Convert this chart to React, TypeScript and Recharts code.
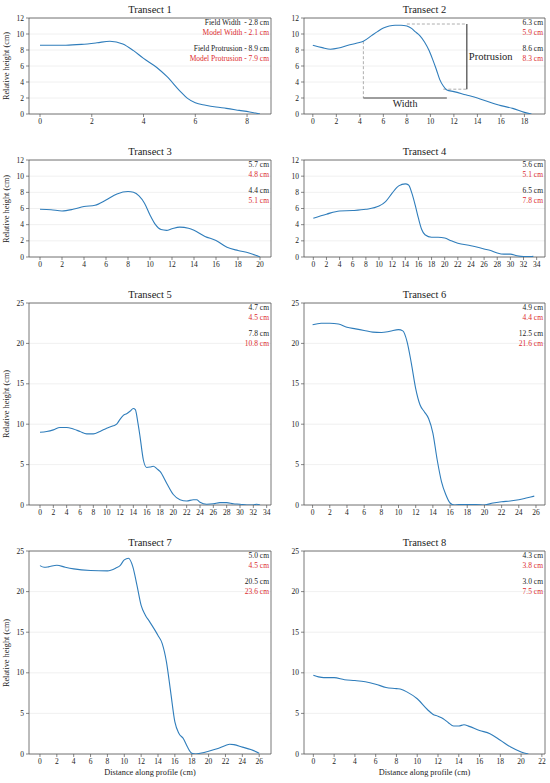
import React from 'react';
import { LineChart, Line, XAxis, YAxis, CartesianGrid, ReferenceArea, ReferenceLine } from 'recharts';

const FONT = '"Liberation Serif", "DejaVu Serif", serif';
const LINE_COLOR = '#2f7dbb';
const RED = '#dc2a2d';
const DARK = '#222';

// ---- data ----
const t1X = [0, 0.5, 1, 1.6, 2.2, 2.7, 3.2, 3.6, 4.0, 4.5, 4.9, 5.4, 5.7, 6.0, 6.4, 6.8, 7.2, 7.7, 8.1, 8.5];
const t1Y = [8.6, 8.6, 8.6, 8.7, 8.9, 9.1, 8.75, 7.95, 6.95, 5.85, 4.7, 2.9, 1.95, 1.4, 1.1, 0.87, 0.7, 0.45, 0.25, 0.0];

const t2X = [0, 0.8, 1.5, 2.2, 3, 3.7, 4.3, 5, 5.5, 6, 6.5, 7, 7.5, 8, 8.4, 8.7, 9.1, 9.5, 9.9, 10.2, 10.5, 10.8, 11.1, 11.4, 12, 13, 14, 15, 16, 17, 18, 18.6];
const t2Y = [8.6, 8.3, 8.1, 8.25, 8.6, 8.85, 9.1, 9.8, 10.3, 10.75, 11.0, 11.1, 11.1, 11.0, 10.7, 10.3, 9.8, 9.0, 7.9, 6.8, 5.6, 4.3, 3.5, 3.0, 2.8, 2.4, 2.0, 1.5, 1.05, 0.7, 0.2, 0.0];

const t3X = [0, 1, 2, 3, 4, 5, 6, 7, 8, 8.5, 9, 9.5, 10, 10.5, 11, 11.5, 12, 12.7, 13.5, 14, 15, 16, 17, 18, 19, 20];
const t3Y = [5.9, 5.85, 5.7, 5.9, 6.25, 6.4, 7.05, 7.8, 8.1, 8.0, 7.55, 6.65, 5.2, 4.0, 3.4, 3.3, 3.5, 3.7, 3.55, 3.3, 2.55, 2.05, 1.2, 0.8, 0.5, 0.0];

const t4X = [0, 2, 4, 6, 8, 10, 11, 12, 13, 14, 14.5, 15, 15.5, 16, 16.5, 17, 18, 19, 20, 21, 22, 24, 26, 27, 28, 29, 30, 31, 32, 33, 33.5];
const t4Y = [4.8, 5.3, 5.7, 5.75, 5.9, 6.3, 6.85, 7.9, 8.8, 9.05, 8.9, 7.9, 6.45, 4.8, 3.4, 2.75, 2.45, 2.45, 2.35, 2.0, 1.7, 1.4, 1.0, 0.8, 0.5, 0.35, 0.35, 0.15, 0.05, 0.05, 0.1];

const t5X = [0, 1, 2, 3, 4, 5, 6, 7, 8, 9, 10, 11, 11.5, 12, 12.5, 13, 13.5, 14, 14.3, 14.7, 15, 15.5, 16, 16.5, 17, 17.5, 18, 19, 20, 21, 22, 23, 23.5, 24, 25, 26, 27, 28, 29, 30, 31, 32, 32.5, 33];
const t5Y = [9.0, 9.1, 9.3, 9.6, 9.6, 9.4, 9.1, 8.8, 8.8, 9.1, 9.5, 9.8, 10.0, 10.6, 11.1, 11.3, 11.6, 11.95, 11.8, 10.1, 8.5, 5.6, 4.65, 4.7, 4.8, 4.5, 4.15, 2.7, 1.3, 0.65, 0.5, 0.65, 0.65, 0.35, 0.1, 0.15, 0.3, 0.3, 0.15, 0.1, 0.0, 0.0, 0.1, 0.0];

const t6X = [0, 1, 2, 3, 4, 5, 6, 7, 8, 9, 10, 10.5, 11, 11.5, 12, 12.5, 13, 13.5, 14, 14.5, 15, 15.5, 16, 16.5, 17, 18, 19, 20, 21, 22, 23, 24, 25, 25.8];
const t6Y = [22.3, 22.5, 22.5, 22.4, 22.0, 21.8, 21.6, 21.4, 21.35, 21.5, 21.7, 21.55, 20.2, 17.5, 14.4, 12.4, 11.55, 10.7, 8.9, 5.6, 2.9, 1.3, 0.25, 0.0, 0.05, 0.05, 0.05, 0.0, 0.25, 0.4, 0.5, 0.65, 0.9, 1.1];

const t7X = [0, 0.5, 1, 2, 3, 4, 6, 8, 9, 9.5, 10, 10.5, 11, 11.5, 12, 12.5, 13, 14, 14.5, 15, 15.5, 16, 16.5, 17, 17.5, 18, 18.5, 19, 20, 21, 22, 22.5, 23, 24, 25, 26];
const t7Y = [23.2, 23.0, 23.05, 23.25, 23.0, 22.8, 22.6, 22.55, 22.9, 23.2, 23.9, 24.1, 23.1, 20.8, 18.3, 17.1, 16.3, 14.6, 13.6, 11.35, 7.65, 3.95, 2.5, 1.9, 0.85, 0.1, 0.0, 0.1, 0.35, 0.65, 1.05, 1.2, 1.15, 0.85, 0.55, 0.1];

const t8X = [0, 0.5, 1, 2, 3, 4, 5, 6, 7, 8, 8.5, 9, 10, 11, 11.5, 12, 12.5, 13, 13.5, 14, 14.5, 15, 16, 17, 18, 19, 20, 20.7];
const t8Y = [9.7, 9.5, 9.4, 9.4, 9.15, 9.05, 8.9, 8.6, 8.2, 8.05, 7.95, 7.65, 6.8, 5.45, 4.9, 4.65, 4.35, 3.85, 3.45, 3.45, 3.6, 3.4, 2.9, 2.5, 1.7, 0.85, 0.25, 0.0];

// tick labels
const ticksT1 = [0, 2, 4, 6, 8];
const ticksT2 = [0, 2, 4, 6, 8, 10, 12, 14, 16, 18];
const ticksT3 = [0, 2, 4, 6, 8, 10, 12, 14, 16, 18, 20];
const ticksT4 = [0, 2, 4, 6, 8, 10, 12, 14, 16, 18, 20, 22, 24, 26, 28, 30, 32, 34];
const ticksT5 = [0, 2, 4, 6, 8, 10, 12, 14, 16, 18, 20, 22, 24, 26, 28, 30, 32, 34];
const ticksT6 = [0, 2, 4, 6, 8, 10, 12, 14, 16, 18, 20, 22, 24, 26];
const ticksT7 = [0, 2, 4, 6, 8, 10, 12, 14, 16, 18, 20, 22, 24, 26];
const ticksT8 = [0, 2, 4, 6, 8, 10, 12, 14, 16, 18, 20, 22];
const yTicksSmall = [0, 2, 4, 6, 8, 10, 12];
const yTicksLarge = [0, 5, 10, 15, 20, 25];

// annotations (field / model width, field / model protrusion)
const notesT1 = ['Field Width  - 2.8 cm', 'Model Width - 2.1 cm', 'Field Protrusion - 8.9 cm', 'Model Protrusion - 7.9 cm'];
const notesT2 = ['6.3 cm', '5.9 cm', '8.6 cm', '8.3 cm'];
const notesT3 = ['5.7 cm', '4.8 cm', '4.4 cm', '5.1 cm'];
const notesT4 = ['5.6 cm', '5.1 cm', '6.5 cm', '7.8 cm'];
const notesT5 = ['4.7 cm', '4.5 cm', '7.8 cm', '10.8 cm'];
const notesT6 = ['4.9 cm', '4.4 cm', '12.5 cm', '21.6 cm'];
const notesT7 = ['5.0 cm', '4.5 cm', '20.5 cm', '23.6 cm'];
const notesT8 = ['4.3 cm', '3.8 cm', '3.0 cm', '7.5 cm'];

// schematic on transect 2 (data coordinates)
const widthStartX = 4.3;
const widthEndX = 11.4;
const widthY = 2.0;
const crestStartY = 9.1;
const protTopY = 11.25;
const protBottomY = 3.1;
const protX = 13.1;
const crestX = 8.0;
const toeX = 11.1;

const build = (xs: number[], ys: number[]) => xs.map((x, i) => ({ x, y: ys[i] }));

type PanelDef = {
  title: string;
  data: { x: number; y: number }[];
  xDomain: [number, number];
  xTicks: number[];
  yMax: number;
  yTicks: number[];
  col: number;
  boxTop: number;
  boxBottom: number;
  ylabel: boolean;
  xlabel: boolean;
  notes: string[];
  schematic?: boolean;
};

const panels: PanelDef[] = [
  { title: 'Transect 1', data: build(t1X, t1Y), xDomain: [-0.425, 8.925], xTicks: ticksT1, yMax: 12, yTicks: yTicksSmall, col: 0, boxTop: 18, boxBottom: 114, ylabel: true, xlabel: false, notes: notesT1 },
  { title: 'Transect 2', data: build(t2X, t2Y), xDomain: [-0.75, 19.75], xTicks: ticksT2, yMax: 12, yTicks: yTicksSmall, col: 1, boxTop: 18, boxBottom: 114, ylabel: false, xlabel: false, notes: notesT2, schematic: true },
  { title: 'Transect 3', data: build(t3X, t3Y), xDomain: [-1, 21], xTicks: ticksT3, yMax: 12, yTicks: yTicksSmall, col: 0, boxTop: 160, boxBottom: 257, ylabel: true, xlabel: false, notes: notesT3 },
  { title: 'Transect 4', data: build(t4X, t4Y), xDomain: [-1.42, 35.27], xTicks: ticksT4, yMax: 12, yTicks: yTicksSmall, col: 1, boxTop: 160, boxBottom: 257, ylabel: false, xlabel: false, notes: notesT4 },
  { title: 'Transect 5', data: build(t5X, t5Y), xDomain: [-1.65, 34.65], xTicks: ticksT5, yMax: 25, yTicks: yTicksLarge, col: 0, boxTop: 303, boxBottom: 505, ylabel: true, xlabel: false, notes: notesT5 },
  { title: 'Transect 6', data: build(t6X, t6Y), xDomain: [-1.0, 27.05], xTicks: ticksT6, yMax: 25, yTicks: yTicksLarge, col: 1, boxTop: 303, boxBottom: 505, ylabel: false, xlabel: false, notes: notesT6 },
  { title: 'Transect 7', data: build(t7X, t7Y), xDomain: [-1.3, 27.4], xTicks: ticksT7, yMax: 25, yTicks: yTicksLarge, col: 0, boxTop: 551, boxBottom: 754, ylabel: true, xlabel: true, notes: notesT7 },
  { title: 'Transect 8', data: build(t8X, t8Y), xDomain: [-0.9, 22.3], xTicks: ticksT8, yMax: 25, yTicks: yTicksLarge, col: 1, boxTop: 551, boxBottom: 754, ylabel: false, xlabel: true, notes: notesT8 },
];

const COL_W = 275;
const TOP_PAD = 18;
const AXIS_H = 22;
const Y_AXIS_W = 29;

function Panel({ p }: { p: PanelDef }) {
  const boxH = p.boxBottom - p.boxTop;
  const h = boxH + TOP_PAD + AXIS_H;
  const rightMargin = p.col === 0 ? 4 : 5;
  const plotW = COL_W - Y_AXIS_W - rightMargin;
  const tickStyle = { fontSize: 7.5, fill: DARK, fontFamily: FONT };
  const noteOffsets = [5.3, 15.3, 31.3, 41.3];
  return (
    <div style={{ position: 'absolute', left: p.col * COL_W, top: p.boxTop - TOP_PAD, width: COL_W, height: h }}>
      <LineChart width={COL_W} height={h} data={p.data} margin={{ top: TOP_PAD, right: rightMargin, bottom: 0, left: 0 }} style={{ fontFamily: FONT }}>
        <CartesianGrid vertical={false} stroke="#ececec" strokeWidth={0.8} />
        <XAxis
          dataKey="x"
          type="number"
          domain={p.xDomain}
          allowDataOverflow
          ticks={p.xTicks}
          interval={0}
          height={AXIS_H}
          axisLine={false}
          tickLine={{ stroke: '#555', strokeWidth: 0.7 }}
          tickSize={3}
          tickMargin={2}
          tick={tickStyle}
        />
        <YAxis
          type="number"
          domain={[0, p.yMax]}
          allowDataOverflow
          ticks={p.yTicks}
          interval={0}
          width={Y_AXIS_W}
          axisLine={false}
          tickLine={{ stroke: '#555', strokeWidth: 0.7 }}
          tickSize={3}
          tickMargin={2}
          tick={tickStyle}
        />
        {p.schematic && (
          <ReferenceLine segment={[{ x: widthStartX, y: crestStartY }, { x: widthStartX, y: widthY }]} stroke="#999" strokeDasharray="3 2" strokeWidth={0.8} />
        )}
        {p.schematic && (
          <ReferenceLine segment={[{ x: crestX, y: protTopY }, { x: protX, y: protTopY }]} stroke="#999" strokeDasharray="3 2" strokeWidth={0.8} />
        )}
        {p.schematic && (
          <ReferenceLine segment={[{ x: toeX, y: protBottomY }, { x: protX, y: protBottomY }]} stroke="#999" strokeDasharray="3 2" strokeWidth={0.8} />
        )}
        {p.schematic && (
          <ReferenceLine
            segment={[{ x: widthStartX, y: widthY }, { x: widthEndX, y: widthY }]}
            stroke="#444"
            strokeWidth={1.2}
            label={{ value: 'Width', position: 'bottom', offset: 2, fontSize: 10, fill: DARK, fontFamily: FONT }}
          />
        )}
        {p.schematic && (
          <ReferenceLine
            segment={[{ x: protX, y: protTopY }, { x: protX, y: protBottomY }]}
            stroke="#444"
            strokeWidth={1.2}
            label={{ value: 'Protrusion', position: 'right', offset: 2, fontSize: 10.5, fill: DARK, fontFamily: FONT }}
          />
        )}
        <Line type="monotone" dataKey="y" stroke={LINE_COLOR} strokeWidth={1.1} dot={false} isAnimationActive={false} />
        <ReferenceArea x1={p.xDomain[0]} x2={p.xDomain[1]} y1={0} y2={p.yMax} fill="none" stroke="#555" strokeWidth={0.8} ifOverflow="visible" />
      </LineChart>
      <div
        style={{
          position: 'absolute',
          left: Y_AXIS_W,
          width: plotW,
          top: TOP_PAD - 8 - 6,
          height: 12,
          lineHeight: '12px',
          textAlign: 'center',
          fontFamily: FONT,
          fontSize: 10.5,
          fontWeight: 'normal',
          color: DARK,
        }}
      >
        {p.title}
      </div>
      {p.notes.map((n, i) => (
        <div
          key={i}
          style={{
            position: 'absolute',
            right: rightMargin + 2,
            top: TOP_PAD + noteOffsets[i] - 5,
            height: 10,
            lineHeight: '10px',
            whiteSpace: 'pre',
            fontFamily: FONT,
            fontSize: 7.5,
            color: i % 2 === 0 ? DARK : RED,
          }}
        >
          {n}
        </div>
      ))}
      {p.ylabel && (
        <div
          style={{
            position: 'absolute',
            left: 7,
            top: TOP_PAD + boxH / 2,
            transform: 'translate(-50%, -50%) rotate(-90deg)',
            whiteSpace: 'nowrap',
            fontFamily: FONT,
            fontSize: 8.3,
            lineHeight: '10px',
            color: DARK,
          }}
        >
          Relative height (cm)
        </div>
      )}
      {p.xlabel && (
        <div
          style={{
            position: 'absolute',
            left: Y_AXIS_W,
            width: plotW,
            top: TOP_PAD + boxH + 19.3 - 5,
            height: 10,
            lineHeight: '10px',
            textAlign: 'center',
            fontFamily: FONT,
            fontSize: 8.3,
            color: DARK,
          }}
        >
          Distance along profile (cm)
        </div>
      )}
    </div>
  );
}

export default function App() {
  return (
    <div style={{ position: 'absolute', left: 0, top: 0, width: 550, height: 783, background: '#fff', overflow: 'hidden', fontFamily: FONT }}>
      {panels.map((p) => (
        <Panel key={p.title} p={p} />
      ))}
    </div>
  );
}
